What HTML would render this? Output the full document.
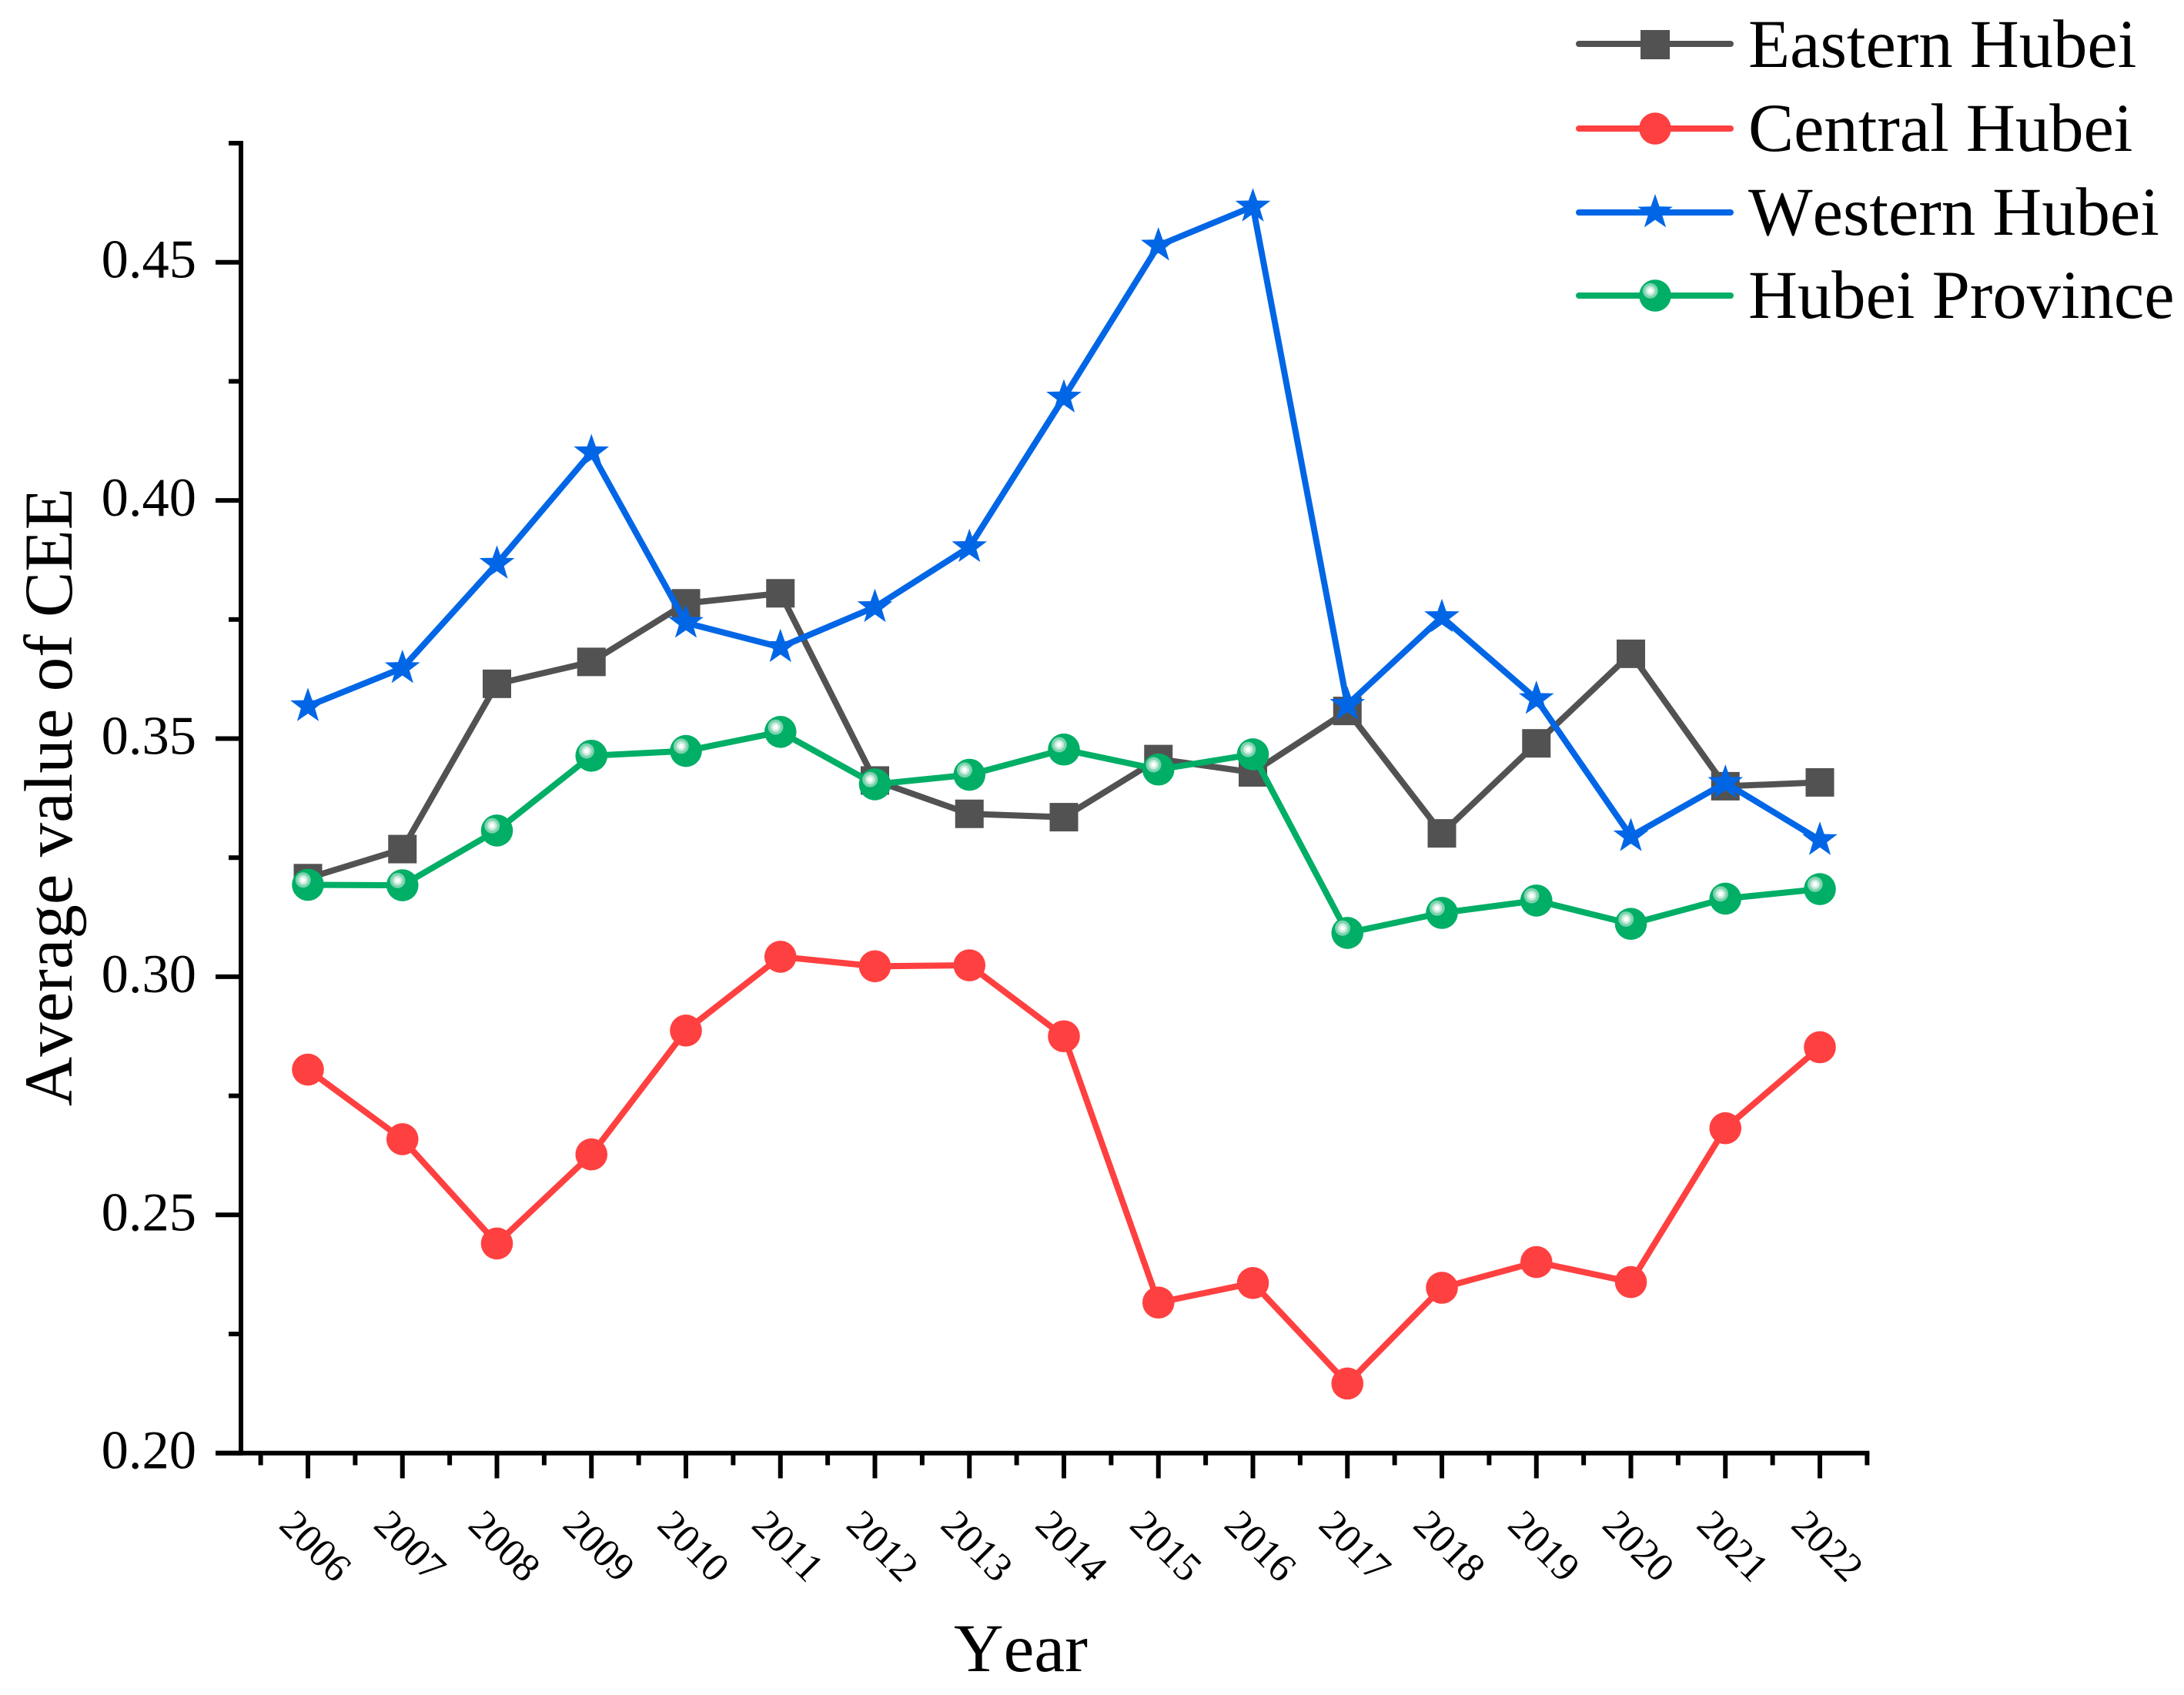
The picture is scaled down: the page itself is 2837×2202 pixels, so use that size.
<!DOCTYPE html>
<html>
<head>
<meta charset="utf-8">
<style>
html,body{margin:0;padding:0;background:#fff;}
svg{display:block;font-family:"Liberation Serif","Times New Roman",serif;font-kerning:none;}
</style>
</head>
<body>
<svg id="chart" xmlns="http://www.w3.org/2000/svg" width="2837" height="2202" viewBox="0 0 2837 2202">
<defs>
<radialGradient id="pearl" cx="0.35" cy="0.35" r="0.25" fx="0.35" fy="0.35">
<stop offset="0" stop-color="#ffffff"/>
<stop offset="0.25" stop-color="#ffffff"/>
<stop offset="0.36" stop-color="#cfeee1"/>
<stop offset="0.56" stop-color="#c2ead9"/>
<stop offset="0.66" stop-color="#7fd4b0"/>
<stop offset="0.9" stop-color="#7fd4b0"/>
<stop offset="1" stop-color="#00ae66"/>
</radialGradient>
</defs>
<rect x="0" y="0" width="2837" height="2202" fill="#ffffff"/>
<g id="axes"></g>
<g id="series"></g>
<text transform="translate(93,1035.5) rotate(-90)" text-anchor="middle" font-size="89" fill="#000">Average value of CEE</text>
<text x="1326" y="2171" text-anchor="middle" font-size="89.5" fill="#000">Year</text>
<g>
<g>
<line x1="2051" y1="57" x2="2248" y2="57" stroke="#525252" stroke-width="8" stroke-linecap="round"/>
<rect x="2131" y="39" width="38" height="38" fill="#525252"/>
<text x="2271" y="87" font-size="88.6" fill="#000">Eastern Hubei</text>
</g>
<g>
<line x1="2051" y1="167" x2="2248" y2="167" stroke="#ff4040" stroke-width="8" stroke-linecap="round"/>
<circle cx="2150" cy="167" r="20.8" fill="#ff4040"/>
<text x="2271" y="196" font-size="88.6" fill="#000">Central Hubei</text>
</g>
<g>
<line x1="2051" y1="276" x2="2248" y2="276" stroke="#0066e6" stroke-width="8" stroke-linecap="round"/>
<polygon points="2150,252 2155.6,268.2 2172.8,268.6 2159.1,279 2164.1,295.4 2150,285.6 2135.9,295.4 2140.9,279 2127.2,268.6 2144.4,268.2" fill="#0066e6"/>
<text x="2271" y="305" font-size="88.6" fill="#000">Western Hubei</text>
</g>
<g>
<line x1="2051" y1="384" x2="2248" y2="384" stroke="#00ae66" stroke-width="8" stroke-linecap="round"/>
<circle cx="2150" cy="384" r="20.8" fill="url(#pearl)"/>
<text x="2271" y="413" font-size="88.6" fill="#000">Hubei Province</text>
</g>
</g>
</svg>
<script>
const years = [2006,2007,2008,2009,2010,2011,2012,2013,2014,2015,2016,2017,2018,2019,2020,2021,2022];
const easternHubei = [0.3207,0.3268,0.3615,0.3661,0.3784,0.3805,0.3412,0.3342,0.3335,0.3457,0.3429,0.3558,0.3301,0.3490,0.3678,0.3400,0.3408];
const centralHubei = [0.2805,0.2659,0.2440,0.2627,0.2887,0.3042,0.3022,0.3024,0.2875,0.2316,0.2357,0.2146,0.2347,0.2401,0.2359,0.2682,0.2852];
const westernHubei = [0.3568,0.3648,0.3867,0.4101,0.3743,0.3692,0.3776,0.3902,0.4216,0.4535,0.4617,0.3571,0.3755,0.3583,0.3295,0.3407,0.3287];
const hubeiProvince = [0.3193,0.3192,0.3307,0.3464,0.3474,0.3514,0.3404,0.3424,0.3477,0.3435,0.3467,0.3092,0.3134,0.3160,0.3111,0.3164,0.3184];
const yMajorTicks = [0.20,0.25,0.30,0.35,0.40,0.45];
const yMinorTicks = [0.225,0.275,0.325,0.375,0.425,0.475];
const yTickLabels = ["0.20","0.25","0.30","0.35","0.40","0.45"];

const NS = "http://www.w3.org/2000/svg";
function xAxis(year){ return 400 + (year - 2006) * 122.75; }
function yAxis(v){ return 1887.7 - (v - 0.20) * 6188; }
function make(tag, attrs, parent){
  const el = document.createElementNS(NS, tag);
  for (const k in attrs) el.setAttribute(k, attrs[k]);
  parent.appendChild(el);
  return el;
}
const axes = document.getElementById("axes");
const seriesGroup = document.getElementById("series");

let el = make("line", {x1:313, y1:yAxis(0.475)-3, x2:313, y2:yAxis(0.20)+3, stroke:"#000","stroke-width":6}, axes);


el = make("line", {x1:280, y1:yAxis(0.20), x2:xAxis(2022.5)+3, y2:yAxis(0.20), stroke:"#000","stroke-width":6}, axes);



yMajorTicks.forEach(function(v, i){
  const t = make("line", {x1:280, y1:yAxis(v), x2:313, y2:yAxis(v), stroke:"#000","stroke-width":6}, axes);
  
  
  const l = make("text", {x:255, y:yAxis(v)+20, "text-anchor":"end","font-size":70.5, fill:"#000"}, axes);
  l.textContent = yTickLabels[i];
  
  
});
yMinorTicks.forEach(function(v){
  const t = make("line", {x1:297, y1:yAxis(v), x2:313, y2:yAxis(v), stroke:"#000","stroke-width":6}, axes);
  
  
});
years.forEach(function(y){
  const t = make("line", {x1:xAxis(y), y1:yAxis(0.20), x2:xAxis(y), y2:1920.5, stroke:"#000","stroke-width":6}, axes);
  
  
  const m = make("line", {x1:xAxis(y-0.5), y1:yAxis(0.20), x2:xAxis(y-0.5), y2:1903.5, stroke:"#000","stroke-width":6}, axes);
  
  
  const l = make("text", {transform:"translate("+(xAxis(y)-2.3)+",2020.6) rotate(45)","text-anchor":"middle","font-size":52.5, fill:"#000"}, axes);
  l.textContent = String(y);
  
  
});
const lastMinor = make("line", {x1:xAxis(2022.5), y1:yAxis(0.20), x2:xAxis(2022.5), y2:1903.5, stroke:"#000","stroke-width":6}, axes);



function polyPoints(values){
  return values.map(function(v, i){ return xAxis(years[i]) + "," + yAxis(v); }).join(" ");
}
function starPoints(cx, cy){
  const outer = 24, inner = 9.6, pts = [];
  for (let i = 0; i < 10; i++){
    const r = i % 2 ? inner : outer;
    const a = -Math.PI/2 + i * Math.PI/5;
    pts.push((cx + r*Math.cos(a)) + "," + (cy + r*Math.sin(a)));
  }
  return pts.join(" ");
}

const easternLine = make("polyline", {points:polyPoints(easternHubei), fill:"none", stroke:"#525252","stroke-width":8,"stroke-linejoin":"round"}, seriesGroup);


easternHubei.forEach(function(v, i){
  const m = make("rect", {x:xAxis(years[i])-18.5, y:yAxis(v)-18.5, width:37, height:37, fill:"#525252"}, seriesGroup);
  
  
});

const centralLine = make("polyline", {points:polyPoints(centralHubei), fill:"none", stroke:"#ff4040","stroke-width":8,"stroke-linejoin":"round"}, seriesGroup);


centralHubei.forEach(function(v, i){
  const m = make("circle", {cx:xAxis(years[i]), cy:yAxis(v), r:20.8, fill:"#ff4040"}, seriesGroup);
  
  
});

const westernLine = make("polyline", {points:polyPoints(westernHubei), fill:"none", stroke:"#0066e6","stroke-width":8,"stroke-linejoin":"round"}, seriesGroup);


westernHubei.forEach(function(v, i){
  const m = make("polygon", {points:starPoints(xAxis(years[i]), yAxis(v)), fill:"#0066e6"}, seriesGroup);
  
  
});

const provinceLine = make("polyline", {points:polyPoints(hubeiProvince), fill:"none", stroke:"#00ae66","stroke-width":8,"stroke-linejoin":"round"}, seriesGroup);


hubeiProvince.forEach(function(v, i){
  const m = make("circle", {cx:xAxis(years[i]), cy:yAxis(v), r:20.8, fill:"url(#pearl)"}, seriesGroup);
  
  
});
</script>
</body>
</html>
